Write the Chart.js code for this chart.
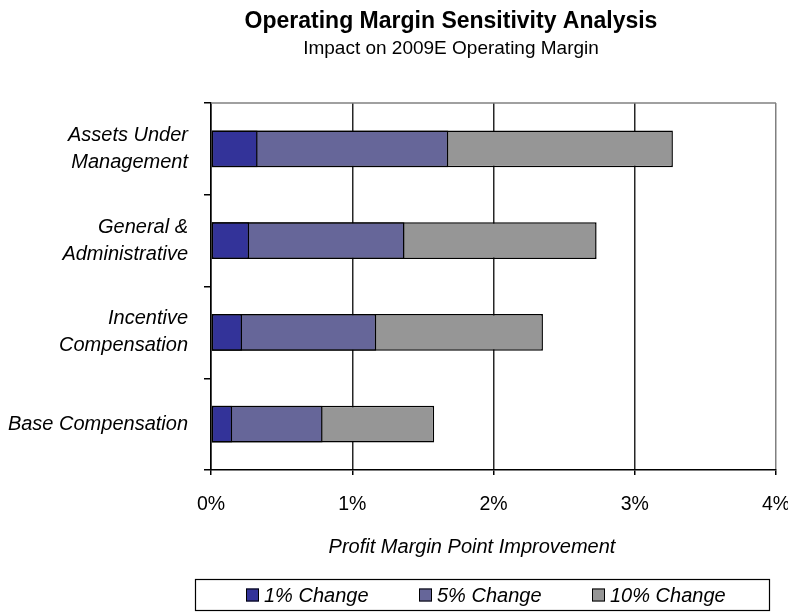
<!DOCTYPE html>
<html>
<head>
<meta charset="utf-8">
<script src="https://cdn.jsdelivr.net/npm/chart.js@4.4.1/dist/chart.umd.min.js"></script>
<style>
  html, body { margin: 0; padding: 0; background: #ffffff; }
  #wrap { width: 788px; height: 613px; }
</style>
</head>
<body>
<div id="wrap"><canvas id="c" width="788" height="613"></canvas></div>
<script>
// ---- Data ----
const categories = [
  ['Assets Under', 'Management'],
  ['General &', 'Administrative'],
  ['Incentive', 'Compensation'],
  'Base Compensation'
];
const seriesNames = ['1% Change', '5% Change', '10% Change'];
const change1 = [0.33, 0.27, 0.22, 0.15];
const change5 = [1.68, 1.37, 1.17, 0.79];
const change10 = [3.27, 2.73, 2.35, 1.58];
const xTickValues = [0, 1, 2, 3, 4];
const titleText = 'Operating Margin Sensitivity Analysis';
const subtitleText = 'Impact on 2009E Operating Margin';
const xAxisTitle = 'Profit Margin Point Improvement';

const colors = ['#333399', '#666699', '#969696'];
const FONT = '"Liberation Sans", Arial, sans-serif';

const seriesData = [change1, change5, change10];
const datasets = seriesData.map((d, i) => ({
  label: seriesNames[i],
  data: d,
  backgroundColor: colors[i],
  borderColor: '#000000',
  borderWidth: 1.5,
  borderSkipped: false,
  grouped: false,
  barPercentage: 0.4,
  categoryPercentage: 1.0
}));

const decorPlugin = {
  id: 'decor',
  afterDraw(chart) {
    const ctx = chart.ctx;
    const a = chart.chartArea;
    ctx.save();
    // gray top frame line
    ctx.strokeStyle = '#808080';
    ctx.lineWidth = 1.5;
    ctx.beginPath();
    ctx.moveTo(a.left, a.top);
    ctx.lineTo(a.right, a.top);
    ctx.stroke();

    // Titles
    ctx.fillStyle = '#000';
    ctx.textAlign = 'center';
    ctx.textBaseline = 'middle';
    ctx.font = 'bold 23px ' + FONT;
    ctx.fillText(titleText, 451, 22);
    ctx.font = '19px ' + FONT;
    ctx.fillText(subtitleText, 451, 49);

    // x-axis title
    ctx.font = 'italic 20px ' + FONT;
    ctx.fillText(xAxisTitle, 472, 547);

    // Legend box
    const lx = 195, ly = 579, lw = 574, lh = 31;
    ctx.strokeStyle = '#000';
    ctx.lineWidth = 1.2;
    ctx.strokeRect(lx + 0.5, ly + 0.5, lw, lh);
    const itemX = [246, 419, 592];
    const cy = ly + lh / 2 + 0.5;
    ctx.font = 'italic 20px ' + FONT;
    ctx.textAlign = 'left';
    chart.data.datasets.forEach((ds, i) => {
      const x = itemX[i];
      ctx.fillStyle = ds.backgroundColor;
      ctx.fillRect(x, cy - 6.5, 13, 13);
      ctx.strokeStyle = '#000';
      ctx.lineWidth = 1;
      ctx.strokeRect(x + 0.5, cy - 6.5 + 0.5, 12, 12);
      ctx.fillStyle = '#000';
      ctx.fillText(ds.label, x + 18, cy + 1);
    });
    ctx.restore();
  }
};

new Chart(document.getElementById('c'), {
  type: 'bar',
  data: { labels: categories, datasets },
  options: {
    indexAxis: 'y',
    responsive: false,
    animation: false,
    events: [],
    layout: { padding: { top: 103, right: 0, left: 0, bottom: 0 } },
    plugins: {
      legend: { display: false },
      title: { display: false },
      tooltip: { enabled: false }
    },
    scales: {
      x: {
        type: 'linear',
        min: 0,
        max: 4,
        afterBuildTicks: (s) => { s.ticks = xTickValues.map(v => ({ value: v })); },
        afterFit: (s) => { s.height = 143; s.paddingRight = 12; s.paddingLeft = 0; },
        ticks: {
          callback: (v) => v + '%',
          color: '#000',
          font: { family: FONT, size: 19.5 },
          padding: 18
        },
        grid: {
          color: (c) => (c.index === 4 ? '#808080' : '#262626'),
          lineWidth: 1.5,
          tickLength: 5,
          tickColor: '#000',
          tickWidth: 1.5
        },
        border: { color: '#000', width: 1.5 }
      },
      y: {
        type: 'category',
        afterFit: (s) => { s.width = 211; },
        ticks: {
          color: '#000',
          font: { family: FONT, size: 20, style: 'italic', lineHeight: 1.35 },
          padding: 16
        },
        grid: {
          offset: true,
          drawOnChartArea: false,
          tickLength: 7,
          color: '#000',
          lineWidth: 1.5
        },
        border: { color: '#000', width: 1.5 }
      }
    }
  },
  plugins: [decorPlugin]
});
</script>
</body>
</html>
